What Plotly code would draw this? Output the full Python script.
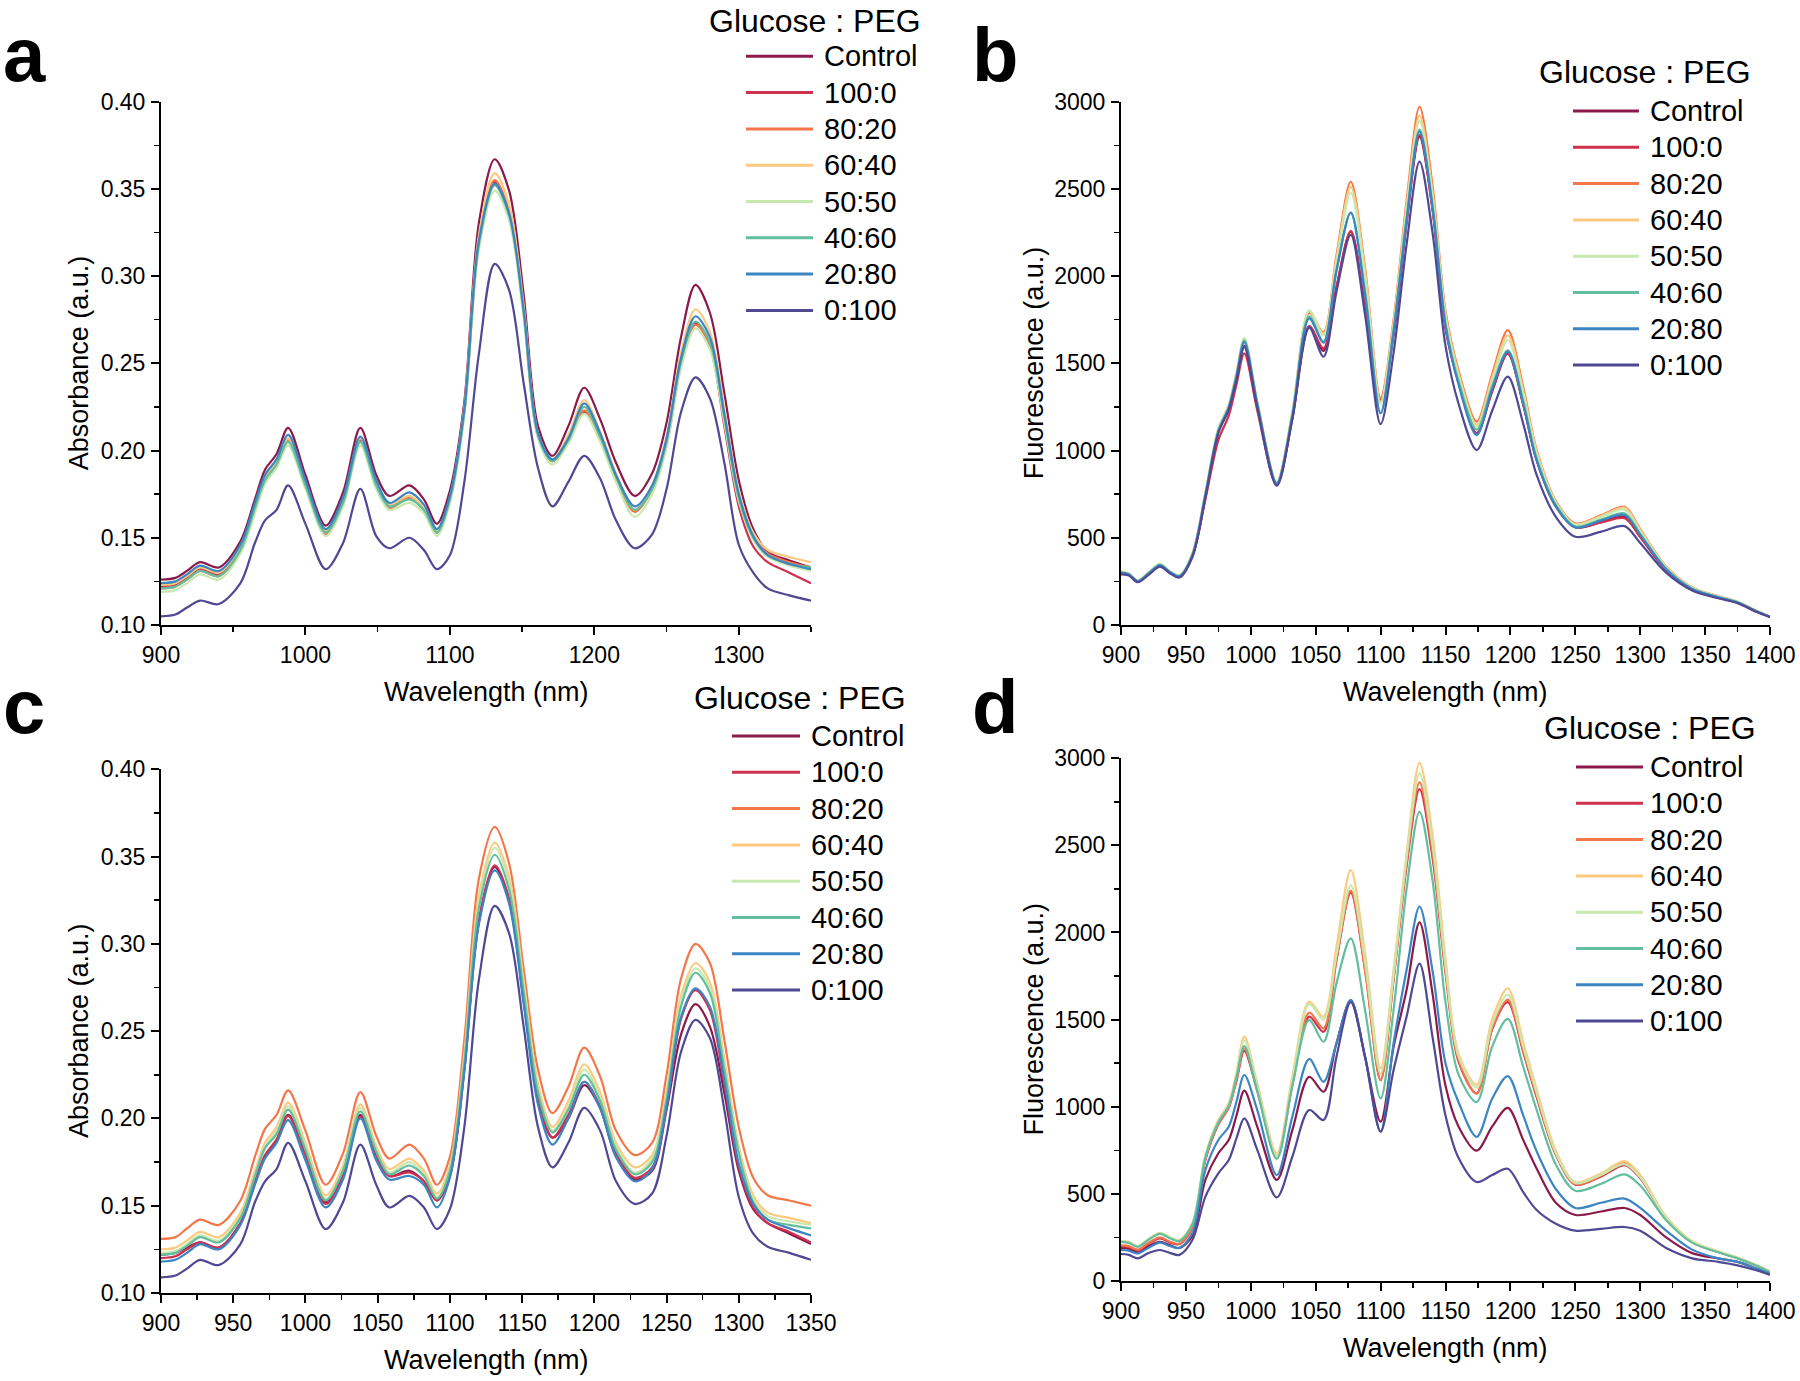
import plotly.graph_objects as go

W, H = 1800, 1381
FONT = "Liberation Sans, Arial, Helvetica, sans-serif"

SERIES = ["Control", "100:0", "80:20", "60:40", "50:50", "40:60", "20:80", "0:100"]
COLORS = ["#8B1A4A", "#D0304F", "#F4774A", "#FDC97F", "#C9E8AE", "#62BE9C", "#3B85C2", "#4F4893"]
LEGEND_TITLE = "Glucose : PEG"

# ---------------- absorbance wavelengths (panels a, c) ----------------
WL_ABS = [900, 910, 918, 927, 940, 955, 965, 972, 980, 988, 1000, 1014, 1026, 1038, 1049,
          1058, 1072, 1082, 1091, 1100, 1110, 1120, 1131, 1141, 1151, 1161, 1171, 1182, 1193,
          1204, 1215, 1228, 1240, 1250, 1260, 1270, 1280, 1290, 1300, 1310, 1320, 1335, 1350]

# panel a
A_CONTROL = [.126, .127, .131, .136, .133, .148, .172, .189, .198, .213, .186, .157, .176, .213, .186,
             .174, .180, .172, .158, .177, .228, .330, .367, .349, .290, .214, .197, .214, .236,
             .218, .193, .174, .187, .216, .265, .295, .279, .233, .183, .155, .142, .137, .133]
A_100_0 = [.122, .123, .127, .132, .129, .144, .168, .184, .192, .206, .181, .153, .171, .206, .181,
           .168, .173, .166, .153, .172, .222, .318, .354, .336, .279, .208, .194, .205, .222,
           .206, .184, .165, .178, .203, .249, .273, .260, .214, .168, .145, .136, .130, .124]
A_80_20 = [.121, .122, .126, .131, .128, .143, .167, .184, .193, .206, .181, .152, .171, .205, .181,
           .167, .173, .166, .153, .172, .223, .319, .355, .337, .281, .209, .194, .206, .223,
           .207, .184, .165, .178, .204, .250, .272, .261, .219, .174, .151, .141, .136, .133]
A_60_40 = [.123, .124, .128, .133, .130, .145, .168, .185, .193, .207, .182, .154, .172, .207, .182,
           .169, .174, .167, .154, .173, .225, .323, .359, .341, .284, .210, .195, .209, .229,
           .211, .187, .166, .180, .208, .256, .281, .268, .224, .177, .153, .143, .139, .136]
A_50_50 = [.119, .120, .124, .129, .126, .141, .164, .181, .190, .203, .178, .151, .168, .203, .178,
           .166, .170, .164, .151, .170, .220, .315, .349, .332, .277, .207, .192, .204, .221,
           .205, .182, .162, .175, .202, .247, .270, .258, .216, .171, .149, .139, .134, .131]
A_40_60 = [.121, .122, .126, .131, .128, .143, .167, .183, .192, .205, .180, .153, .170, .205, .180,
           .168, .172, .166, .153, .172, .222, .318, .352, .335, .280, .209, .194, .206, .225,
           .208, .185, .166, .178, .205, .251, .274, .262, .219, .173, .150, .140, .135, .133]
A_20_80 = [.124, .125, .129, .134, .131, .146, .170, .186, .195, .209, .183, .155, .173, .208, .183,
           .170, .176, .169, .155, .174, .224, .320, .353, .336, .281, .210, .195, .207, .227,
           .210, .186, .168, .180, .207, .253, .277, .265, .221, .175, .151, .140, .135, .132]
A_0_100 = [.105, .106, .110, .114, .112, .124, .147, .160, .166, .180, .158, .132, .147, .178, .151,
           .144, .150, .143, .132, .140, .182, .255, .307, .292, .239, .190, .168, .182, .197,
           .184, .160, .144, .152, .178, .222, .242, .230, .193, .146, .130, .121, .117, .114]

# panel c
C_CONTROL = [.122, .123, .126, .129, .126, .140, .163, .178, .187, .202, .180, .152, .167, .202, .178,
             .167, .170, .164, .153, .167, .228, .312, .344, .325, .268, .212, .189, .200, .219,
             .206, .178, .165, .170, .205, .248, .2655, .2526, .2145, .170, .148, .140, .134, .128]
C_100_0 = [.120, .121, .125, .129, .126, .140, .164, .179, .188, .2015, .179, .151, .167, .201, .178,
           .167, .169, .164, .153, .168, .229, .314, .345, .326, .269, .212, .189, .202, .221,
           .207, .180, .166, .172, .207, .257, .2735, .262, .220, .172, .149, .140, .135, .129]
C_80_20 = [.131, .132, .137, .142, .139, .153, .178, .194, .202, .216, .193, .162, .180, .215, .190,
           .177, .185, .177, .162, .178, .245, .337, .367, .346, .286, .228, .203, .218, .2405,
           .224, .193, .179, .186, .225, .280, .300, .289, .245, .195, .166, .156, .153, .150]
C_60_40 = [.125, .126, .130, .135, .132, .146, .170, .186, .195, .209, .186, .156, .173, .208, .184,
           .171, .177, .170, .157, .173, .237, .327, .358, .338, .279, .220, .195, .210, .231,
           .215, .186, .172, .179, .216, .270, .289, .278, .234, .184, .156, .146, .143, .140]
C_50_50 = [.123, .124, .128, .133, .130, .144, .168, .184, .193, .207, .184, .154, .171, .206, .182,
           .169, .175, .168, .155, .171, .234, .323, .355, .335, .276, .217, .193, .207, .228,
           .212, .184, .169, .177, .213, .267, .286, .275, .231, .182, .154, .144, .141, .139]
C_40_60 = [.122, .123, .127, .132, .129, .143, .167, .183, .191, .205, .182, .153, .170, .204, .181,
           .168, .173, .167, .154, .170, .232, .320, .351, .331, .273, .215, .192, .205, .225,
           .210, .182, .168, .175, .211, .264, .2834, .272, .228, .180, .152, .142, .139, .137]
C_20_80 = [.118, .119, .123, .128, .125, .139, .162, .177, .186, .199, .176, .149, .165, .200, .176,
           .165, .167, .162, .149, .166, .227, .311, .342, .323, .266, .208, .185, .200, .221,
           .206, .178, .164, .171, .207, .258, .2745, .264, .222, .174, .151, .142, .137, .133]
C_0_100 = [.109, .110, .114, .119, .116, .128, .152, .164, .171, .186, .164, .1366, .152, .185, .162,
           .149, .1556, .149, .1366, .148, .195, .279, .3217, .306, .253, .195, .172, .186, .206,
           .193, .164, .151, .157, .190, .238, .2564, .246, .205, .155, .134, .1265, .123, .119]

# ---------------- fluorescence wavelengths (panels b, d) ----------------
WL_FL = [900, 906, 913, 921, 930, 938, 945, 955, 965, 975, 983, 989, 995, 1005, 1020,
         1032, 1045, 1056, 1066, 1077, 1088, 1100, 1110, 1120, 1130, 1140, 1150, 1160, 1174, 1186,
         1198, 1210, 1220, 1235, 1250, 1270, 1288, 1300, 1320, 1340, 1360, 1375, 1390, 1400]

# panel b
B_CONTROL = [295, 288, 248, 290, 338, 298, 276, 395, 735, 1110, 1240, 1410, 1600, 1255, 808,
             1185, 1712, 1572, 1930, 2255, 1820, 1290, 1660, 2300, 2800, 2380, 1700, 1390, 1100, 1340,
             1555, 1260, 950, 680, 560, 590, 620, 505, 315, 205, 158, 128, 76, 47]
B_100_0 = [300, 290, 250, 292, 340, 300, 278, 395, 720, 1060, 1200, 1380, 1557, 1230, 805,
           1185, 1712, 1586, 1940, 2258, 1830, 1300, 1680, 2320, 2810, 2390, 1710, 1395, 1100, 1345,
           1560, 1262, 952, 682, 562, 588, 612, 505, 316, 206, 158, 128, 76, 47]
B_80_20 = [303, 292, 252, 295, 345, 304, 282, 405, 752, 1120, 1255, 1440, 1630, 1275, 815,
           1215, 1790, 1678, 2120, 2541, 2050, 1300, 1750, 2430, 2971, 2520, 1800, 1460, 1166, 1440,
           1691, 1360, 1010, 710, 583, 630, 678, 550, 335, 215, 165, 133, 80, 48]
B_60_40 = [306, 295, 255, 298, 348, 306, 284, 408, 755, 1125, 1260, 1445, 1640, 1280, 818,
           1220, 1802, 1670, 2100, 2513, 2030, 1280, 1730, 2400, 2920, 2480, 1780, 1445, 1150, 1420,
           1660, 1340, 1000, 705, 578, 625, 672, 545, 333, 214, 164, 133, 80, 48]
B_50_50 = [306, 295, 255, 300, 350, 307, 285, 410, 758, 1128, 1262, 1450, 1645, 1282, 820,
           1220, 1802, 1660, 2080, 2478, 2000, 1270, 1720, 2380, 2890, 2460, 1770, 1430, 1138, 1400,
           1634, 1320, 990, 700, 575, 620, 661, 538, 330, 212, 163, 132, 79, 48]
B_40_60 = [302, 292, 252, 296, 345, 303, 281, 403, 750, 1115, 1250, 1432, 1632, 1272, 815,
           1205, 1770, 1625, 2035, 2364, 1910, 1214, 1690, 2330, 2840, 2405, 1725, 1400, 1120, 1370,
           1575, 1280, 960, 690, 565, 605, 640, 522, 322, 208, 160, 130, 78, 47]
B_20_80 = [300, 290, 250, 294, 342, 301, 279, 400, 744, 1107, 1245, 1425, 1622, 1265, 812,
           1197, 1758, 1619, 2030, 2364, 1900, 1214, 1680, 2320, 2830, 2399, 1719, 1380, 1089, 1356,
           1567, 1265, 950, 680, 560, 600, 631, 517, 320, 207, 159, 129, 77, 47]
B_0_100 = [290, 284, 245, 286, 335, 295, 272, 390, 730, 1100, 1235, 1405, 1595, 1245, 797,
           1180, 1705, 1538, 1910, 2236, 1780, 1152, 1560, 2180, 2656, 2250, 1600, 1270, 1003, 1230,
           1424, 1150, 865, 620, 506, 535, 567, 470, 300, 198, 153, 125, 74, 45]

# panel d
D_CONTROL = [190, 185, 165, 200, 225, 205, 190, 260, 580, 733, 809, 950, 1092, 885, 580,
             866, 1172, 1086, 1364, 1612, 1287, 914, 1344, 1670, 2058, 1650, 1120, 887, 748, 887,
             993, 807, 648, 449, 379, 399, 419, 379, 250, 160, 130, 110, 70, 42]
D_100_0 = [200, 195, 175, 213, 245, 220, 212, 305, 695, 900, 995, 1150, 1320, 1090, 710,
           1125, 1517, 1430, 1840, 2228, 1785, 1153, 1730, 2380, 2823, 2430, 1770, 1260, 1076, 1446,
           1600, 1310, 1060, 725, 553, 600, 665, 590, 360, 224, 166, 131, 87, 53]
D_80_20 = [205, 200, 180, 218, 250, 225, 215, 310, 700, 905, 1000, 1160, 1335, 1100, 713,
           1134, 1540, 1450, 1850, 2240, 1790, 1153, 1740, 2400, 2861, 2460, 1790, 1270, 1076, 1450,
           1615, 1320, 1070, 730, 555, 605, 680, 600, 365, 226, 168, 132, 88, 54]
D_60_40 = [231, 225, 200, 240, 277, 250, 235, 331, 720, 924, 1020, 1200, 1402, 1134, 732,
           1172, 1603, 1517, 1918, 2358, 1880, 1220, 1785, 2450, 2975, 2560, 1850, 1305, 1126, 1504,
           1680, 1366, 1106, 748, 568, 618, 688, 608, 369, 229, 170, 134, 90, 55]
D_50_50 = [228, 222, 198, 238, 275, 248, 233, 328, 715, 915, 1010, 1185, 1380, 1120, 713,
           1140, 1590, 1500, 1870, 2272, 1830, 1190, 1760, 2430, 2912, 2500, 1810, 1290, 1110, 1475,
           1643, 1340, 1085, 735, 562, 610, 670, 595, 362, 225, 168, 132, 88, 54]
D_40_60 = [225, 219, 196, 235, 270, 244, 230, 325, 710, 910, 1005, 1170, 1348, 1090, 700,
           1120, 1498, 1373, 1708, 1966, 1555, 1048, 1555, 2250, 2692, 2300, 1600, 1186, 1027, 1346,
           1504, 1226, 987, 668, 518, 558, 612, 548, 349, 220, 165, 130, 86, 52]
D_20_80 = [178, 174, 158, 190, 220, 200, 190, 275, 637, 809, 885, 1030, 1182, 981, 608,
           943, 1274, 1143, 1364, 1612, 1287, 857, 1364, 1785, 2149, 1780, 1250, 1027, 827, 1047,
           1176, 947, 748, 528, 419, 449, 473, 419, 289, 180, 130, 110, 70, 42]
D_0_100 = [155, 150, 130, 160, 178, 160, 150, 235, 484, 618, 694, 820, 933, 752, 480,
           713, 981, 924, 1287, 1600, 1287, 857, 1211, 1517, 1821, 1400, 950, 707, 568, 608,
           644, 508, 409, 329, 289, 299, 310, 289, 189, 130, 110, 90, 60, 35]

# ---------------- ticks ----------------
ABS_YTICKS = [0.10, 0.15, 0.20, 0.25, 0.30, 0.35, 0.40]
ABS_YTICKTEXT = ["0.10", "0.15", "0.20", "0.25", "0.30", "0.35", "0.40"]
ABS_YMINOR = [0.125, 0.175, 0.225, 0.275, 0.325, 0.375]
A_XTICKS = [900, 1000, 1100, 1200, 1300]
A_XMINOR = [950, 1050, 1150, 1250, 1350]
C_XTICKS = [900, 950, 1000, 1050, 1100, 1150, 1200, 1250, 1300, 1350]
C_XMINOR = [925, 975, 1025, 1075, 1125, 1175, 1225, 1275, 1325]
FL_YTICKS = [0, 500, 1000, 1500, 2000, 2500, 3000]
FL_YMINOR = [250, 750, 1250, 1750, 2250, 2750]
FL_XTICKS = [900, 950, 1000, 1050, 1100, 1150, 1200, 1250, 1300, 1350, 1400]
FL_XMINOR = [925, 975, 1025, 1075, 1125, 1175, 1225, 1275, 1325, 1375]


def X(px):
    return px / W


def Y(py):
    return 1 - py / H


# panel boxes in pixels: (left, right, top, bottom)
BOX = {
    "a": (161, 811, 101.7, 625),
    "b": (1121, 1770, 101.7, 625),
    "c": (161, 811, 769.2, 1293),
    "d": (1121, 1770, 758.2, 1281),
}

PANELS = [
    dict(key="a", ax="", wl=WL_ABS,
         data=[A_CONTROL, A_100_0, A_80_20, A_60_40, A_50_50, A_40_60, A_20_80, A_0_100],
         xr=[900, 1350], xt=A_XTICKS, xm=A_XMINOR, yr=[0.10, 0.40], yt=ABS_YTICKS,
         ytt=ABS_YTICKTEXT, ym=ABS_YMINOR, ytitle="Absorbance (a.u.)", tshift=82,
         leg=dict(title_x=815, title_y=21, lx0=746, lx1=813, tx=822, y0=56.3)),
    dict(key="b", ax="2", wl=WL_FL,
         data=[B_CONTROL, B_100_0, B_80_20, B_60_40, B_50_50, B_40_60, B_20_80, B_0_100],
         xr=[900, 1400], xt=FL_XTICKS, xm=FL_XMINOR, yr=[0, 3000], yt=FL_YTICKS,
         ytt=[str(v) for v in FL_YTICKS], ym=FL_YMINOR, ytitle="Fluorescence (a.u.)", tshift=87,
         leg=dict(title_x=1645, title_y=72, lx0=1573, lx1=1639, tx=1648, y0=111)),
    dict(key="c", ax="3", wl=WL_ABS,
         data=[C_CONTROL, C_100_0, C_80_20, C_60_40, C_50_50, C_40_60, C_20_80, C_0_100],
         xr=[900, 1350], xt=C_XTICKS, xm=C_XMINOR, yr=[0.10, 0.40], yt=ABS_YTICKS,
         ytt=ABS_YTICKTEXT, ym=ABS_YMINOR, ytitle="Absorbance (a.u.)", tshift=82,
         leg=dict(title_x=800, title_y=698, lx0=732, lx1=800, tx=809, y0=736)),
    dict(key="d", ax="4", wl=WL_FL,
         data=[D_CONTROL, D_100_0, D_80_20, D_60_40, D_50_50, D_40_60, D_20_80, D_0_100],
         xr=[900, 1400], xt=FL_XTICKS, xm=FL_XMINOR, yr=[0, 3000], yt=FL_YTICKS,
         ytt=[str(v) for v in FL_YTICKS], ym=FL_YMINOR, ytitle="Fluorescence (a.u.)", tshift=87,
         leg=dict(title_x=1650, title_y=728, lx0=1576, lx1=1643, tx=1648, y0=767)),
]

LETTER_POS = {"a": (24, 54), "b": (995, 54), "c": (24, 707), "d": (995, 707)}
ROW_STEP = 36.3

fig = go.Figure()
shapes = []
annotations = []
layout_axes = {}

for p in PANELS:
    ax = p["ax"]
    l, r, t, b = BOX[p["key"]]
    for name, color, vals in zip(SERIES, COLORS, p["data"]):
        fig.add_trace(go.Scatter(
            x=p["wl"], y=vals, mode="lines", name=name,
            line=dict(color=color, width=2.2, shape="spline", smoothing=0.9),
            xaxis="x" + ax, yaxis="y" + ax, showlegend=False, hoverinfo="skip"))

    common = dict(showline=True, linecolor="black", linewidth=2, ticks="outside", ticklen=8,
                  tickwidth=2, tickcolor="black", showgrid=False, zeroline=False,
                  automargin=False,
                  tickfont=dict(family=FONT, size=23, color="black"), fixedrange=True)
    layout_axes["xaxis" + ax] = dict(
        common, domain=[X(l), X(r)], range=p["xr"], anchor="y" + ax,
        tickmode="array", tickvals=p["xt"], ticktext=[str(v) for v in p["xt"]],
        ticklabelstandoff=0,
        minor=dict(tickmode="array", tickvals=p["xm"], ticks="outside", ticklen=5,
                   tickwidth=1.5, tickcolor="black", showgrid=False))
    layout_axes["yaxis" + ax] = dict(
        common, domain=[Y(b), Y(t)], range=p["yr"], anchor="x" + ax,
        tickmode="array", tickvals=p["yt"], ticktext=p["ytt"],
        ticklabelstandoff=1,
        minor=dict(tickmode="array", tickvals=p["ym"], ticks="outside", ticklen=5,
                   tickwidth=1.5, tickcolor="black", showgrid=False))

    # axis titles
    annotations.append(dict(text="Wavelength (nm)", x=X((l + r) / 2), y=Y(b + 67),
                            xref="paper", yref="paper", showarrow=False,
                            xanchor="center", yanchor="middle",
                            font=dict(family=FONT, size=27, color="black")))
    annotations.append(dict(text=p["ytitle"], x=X(l - p["tshift"]), y=Y((t + b) / 2),
                            xref="paper", yref="paper", showarrow=False, textangle=-90,
                            xanchor="center", yanchor="middle",
                            font=dict(family=FONT, size=27, color="black")))
    # panel letter
    lx, ly = LETTER_POS[p["key"]]
    annotations.append(dict(text="<b>" + p["key"] + "</b>", x=X(lx), y=Y(ly),
                            xref="paper", yref="paper", showarrow=False,
                            xanchor="center", yanchor="middle",
                            font=dict(family=FONT, size=76, color="black")))
    # legend
    lg = p["leg"]
    annotations.append(dict(text=LEGEND_TITLE, x=X(lg["title_x"]), y=Y(lg["title_y"]),
                            xref="paper", yref="paper", showarrow=False,
                            xanchor="center", yanchor="middle",
                            font=dict(family=FONT, size=32, color="black")))
    for i, (name, color) in enumerate(zip(SERIES, COLORS)):
        yy = lg["y0"] + ROW_STEP * i
        shapes.append(dict(type="line", xref="paper", yref="paper",
                           x0=X(lg["lx0"]), x1=X(lg["lx1"]), y0=Y(yy), y1=Y(yy),
                           line=dict(color=color, width=3)))
        annotations.append(dict(text=name, x=X(lg["tx"]), y=Y(yy),
                                xref="paper", yref="paper", showarrow=False,
                                xanchor="left", yanchor="middle",
                                font=dict(family=FONT, size=29, color="black")))

fig.update_layout(
    width=W, height=H, autosize=False,
    margin=dict(l=0, r=0, t=0, b=0, pad=0, autoexpand=False),
    paper_bgcolor="white", plot_bgcolor="white",
    font=dict(family=FONT, color="black"),
    showlegend=False,
    shapes=shapes, annotations=annotations,
    **layout_axes,
)

fig.write_html("out.html", config={"displayModeBar": False, "staticPlot": True})
